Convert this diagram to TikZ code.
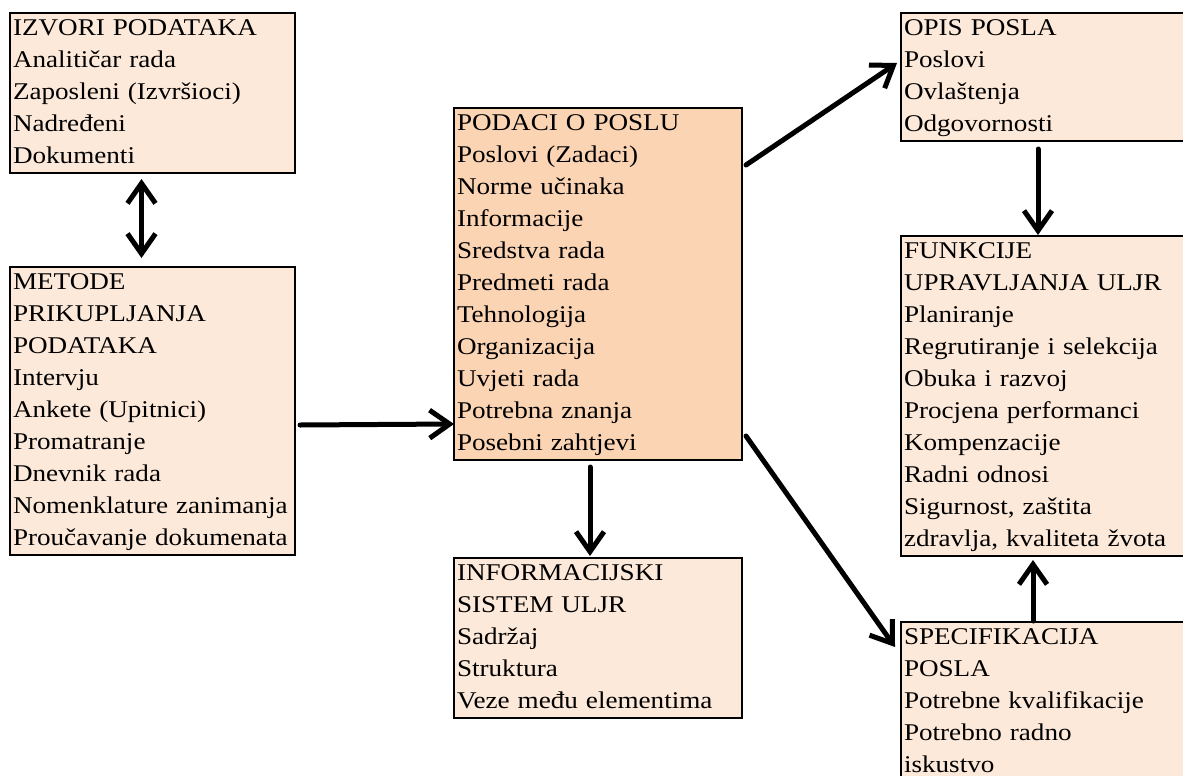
\documentclass[tikz,border=0pt]{standalone}
\usepackage{fontspec}
\setmainfont{Liberation Serif}[FakeStretch=1.13]
\usetikzlibrary{arrows.meta}
\definecolor{peachlight}{HTML}{FDE9D9}
\definecolor{peachdark}{HTML}{FBD4B4}

\begin{document}
\begin{tikzpicture}[x=0.5pt,y=-0.5pt,>={Straight Barb[length=10pt,width=14pt]}]
	\tikzset{box/.style={draw,line width=1pt,fill=peachlight,anchor=north west,outer sep=0pt,
		inner xsep=1.5pt,inner ysep=0pt,align=left,font=\fontsize{12}{16}\selectfont,
		execute at begin node=\strut,execute at end node=\strut}}
	\tikzset{arr/.style={->,line width=2.5pt,line cap=round}}
	\tikzset{darr/.style={<->,line width=2.5pt,line cap=round}}

	\clip (0,0) rectangle (1183,776);

	    \node[box,text width=139.5pt] (izvori) at (10,13) {IZVORI PODATAKA\\Analitičar rada\\Zaposleni (Izvršioci)\\Nadređeni\\Dokumenti};
	    \node[box,text width=139.5pt] (metode) at (10,267) {METODE\\PRIKUPLJANJA\\PODATAKA\\Intervju\\Ankete (Upitnici)\\Promatranje\\Dnevnik rada\\Nomenklature zanimanja\\Proučavanje dokumenata};

	    \node[box,fill=peachdark,text width=141pt] (podaci) at (454,108) {PODACI O POSLU\\Poslovi (Zadaci)\\Norme učinaka\\Informacije\\Sredstva rada\\Predmeti rada\\Tehnologija\\Organizacija\\Uvjeti rada\\Potrebna znanja\\Posebni zahtjevi};
	    \node[box,text width=141pt] (info) at (454,558) {INFORMACIJSKI\\SISTEM ULJR\\Sadržaj\\Struktura\\Veze među elementima};

	    \node[box,text width=147pt] (opis) at (901,13) {OPIS POSLA\\Poslovi\\Ovlaštenja\\Odgovornosti};
	    \node[box,text width=147pt] (funkcije) at (901,236) {FUNKCIJE\\UPRAVLJANJA ULJR\\Planiranje\\Regrutiranje i selekcija\\Obuka i razvoj\\Procjena performanci\\Kompenzacije\\Radni odnosi\\Sigurnost, zaštita\\zdravlja, kvaliteta žvota};
	    \node[box,text width=147pt] (spec) at (901,622) {SPECIFIKACIJA\\POSLA\\Potrebne kvalifikacije\\Potrebno radno\\iskustvo};

		% arrows
		\draw[darr] ([shift={(-11,6)}]izvori.south) -- ([shift={(-11,-9)}]metode.north);
		\draw[arr] ([shift={(5,14)}]metode.east) -- ([shift={(0,140)}]podaci.west);
		\draw[arr] ([shift={(-8,7)}]podaci.south) -- ([shift={(-8,-2)}]info.north);
		\draw[arr] ([shift={(4,57)}]podaci.north east) -- ([shift={(-4,-14)}]opis.west);
		\draw[arr] ([shift={(4,-24)}]podaci.south east) -- ([shift={(-6,25)}]spec.north west);
		\draw[arr] ([shift={(137,8)}]opis.south west) -- ([shift={(137,-1)}]funkcije.north west);
		\draw[arr] ([shift={(132,-1)}]spec.north west) -- ([shift={(132,4)}]funkcije.south west);

\end{tikzpicture}
\end{document}
